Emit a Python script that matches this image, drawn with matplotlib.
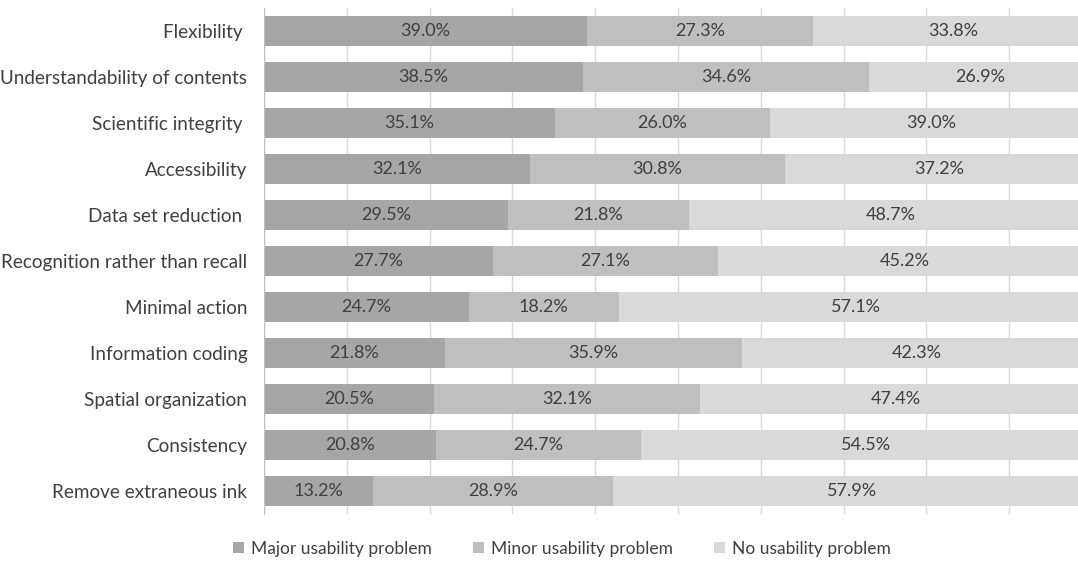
import matplotlib
matplotlib.use("Agg")
import matplotlib.pyplot as plt
import numpy as np

plt.rcParams['font.family'] = ['Lato', 'DejaVu Sans']

categories = [
    "Flexibility ",
    "Understandability of contents",
    "Scientific integrity ",
    "Accessibility",
    "Data set reduction ",
    "Recognition rather than recall",
    "Minimal action",
    "Information coding",
    "Spatial organization",
    "Consistency",
    "Remove extraneous ink",
]
major = [39.0, 38.5, 35.1, 32.1, 29.5, 27.7, 24.7, 21.8, 20.5, 20.8, 13.2]
minor = [27.3, 34.6, 26.0, 30.8, 21.8, 27.1, 18.2, 35.9, 32.1, 24.7, 28.9]
none_ = [33.8, 26.9, 39.0, 37.2, 48.7, 45.2, 57.1, 42.3, 47.4, 54.5, 57.9]
series_names = ["Major usability problem", "Minor usability problem", "No usability problem"]
colors = ["#a6a6a6", "#bfbfbf", "#d9d9d9"]
text_color = "#404040"

W, H = 1078, 564
fig = plt.figure(figsize=(W / 100, H / 100), dpi=100)
# plot area spans 0-100 %; its right end runs past the figure edge
ax = fig.add_axes([264 / W, 1 - 514 / H, 828 / W, 506 / H])

y = np.arange(len(categories))
left = np.zeros(len(categories))
handles = []
for vals, col, name in zip([major, minor, none_], colors, series_names):
    vals = np.array(vals)
    bars = ax.barh(y, vals, left=left, height=0.65, color=col, label=name, zorder=2)
    handles.append(bars)
    for yi, l, v in zip(y, left, vals):
        ax.text(l + v / 2, yi, f"{v:.1f}%", ha="center", va="center",
                fontsize=13, color=text_color, zorder=3)
    left = left + vals

ax.set_xlim(0, 100)
ax.set_ylim(len(categories) - 0.5, -0.5)
ax.set_xticks(np.arange(0, 101, 10))
ax.tick_params(axis="x", length=0, labelbottom=False)
ax.tick_params(axis="y", length=0, pad=12)
ax.set_yticks(y)
ax.set_yticklabels(categories, fontsize=13.6, color=text_color)
ax.grid(axis="x", color="#d9d9d9", linewidth=1, zorder=0)
for s in ["top", "right", "bottom"]:
    ax.spines[s].set_visible(False)
ax.spines["left"].set_color("#bfbfbf")
ax.spines["left"].set_zorder(4)

fig.legend(handles=handles, labels=series_names, loc="center",
           bbox_to_anchor=(562 / W, 1 - 549 / H), ncol=3, frameon=False,
           fontsize=12.5, handlelength=0.6, handleheight=0.6, handletextpad=0.4,
           columnspacing=2.4, labelcolor=text_color)

fig.savefig("out.png", dpi=100)
